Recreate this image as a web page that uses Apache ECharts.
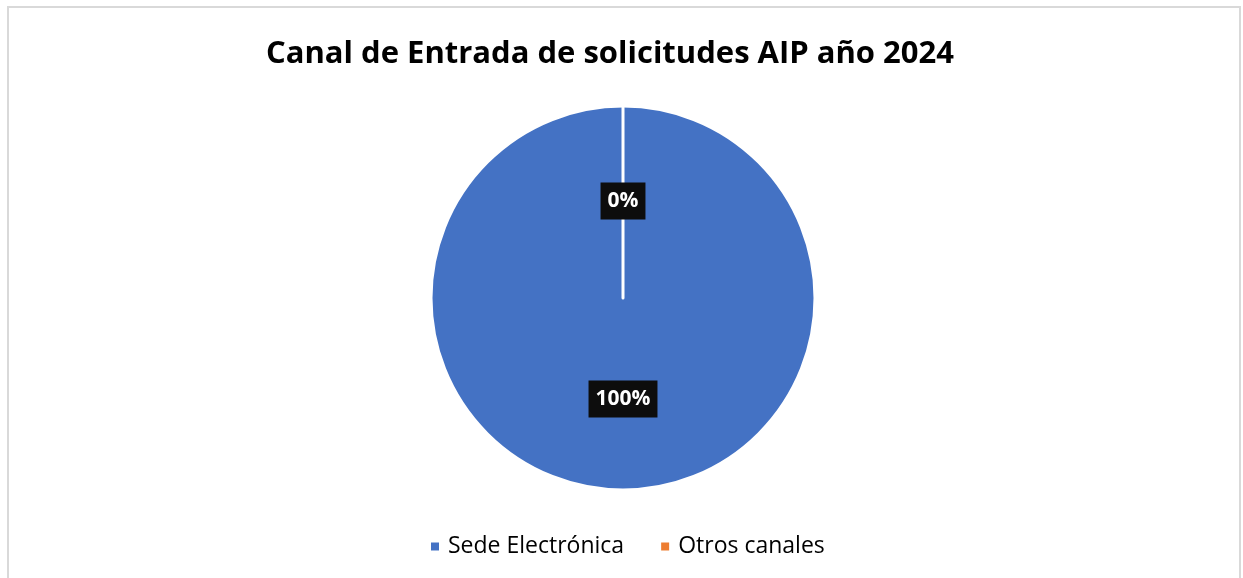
<!DOCTYPE html>
<html>
<head>
<meta charset="utf-8">
<script src="https://cdn.jsdelivr.net/npm/echarts@6/dist/echarts.min.js"></script>
<style>
    body { margin: 0; background: #fff; }
    #chart { position: absolute; left: 0; top: 0; width: 1243px; height: 578px; }
    #frame { position: absolute; left: 7px; top: 6px; width: 1230px; height: 600px;
             border: 2px solid #d9d9d9; pointer-events: none; }
</style>
</head>
<body>
<div id="chart"></div>
<div id="frame"></div>
<script>
var categories = ['Sede Electrónica', 'Otros canales'];
var values = [100, 0];
var colors = ['#4472c4', '#ed7d31'];

var mychart = echarts.init(document.getElementById('chart'));

var seriesData = categories.map(function (name, i) {
    return {name: name, value: values[i], itemStyle: {color: colors[i]}};
});

var option = {
    animation: false,
    title: {
        text: 'Canal de Entrada de solicitudes AIP año 2024',
        left: 605,
        textAlign: 'center',
        top: 34,
        textStyle: {
            fontFamily: 'Open Sans',
            fontSize: 31,
            fontWeight: 'bold',
            color: '#000'
        }
    },
    legend: {
        bottom: 15,
        left: 424,
        itemWidth: 10,
        itemHeight: 10,
        itemGap: 35,
        icon: 'rect',
        data: categories,
        textStyle: {
            fontFamily: 'Open Sans',
            fontSize: 23,
            color: '#000',
            padding: [0, 0, 0, 3]
        }
    },
    series: [
        {
            name: 'Canal',
            type: 'pie',
            radius: 192,
            center: [623, 298],
            startAngle: 90,
            clockwise: true,
            data: seriesData,
            itemStyle: {
                borderColor: '#fff',
                borderWidth: 3
            },
            label: {
                show: true,
                position: 'inside',
                formatter: '{d}%',
                color: '#fff',
                fontFamily: 'Open Sans',
                fontSize: 21,
                fontWeight: 'bold',
                backgroundColor: '#0d0d0d',
                padding: [9, 7, 7, 7],
                offset: [0, 2]
            },
            labelLine: {show: false}
        }
    ]
};

mychart.setOption(option);
</script>
</body>
</html>
